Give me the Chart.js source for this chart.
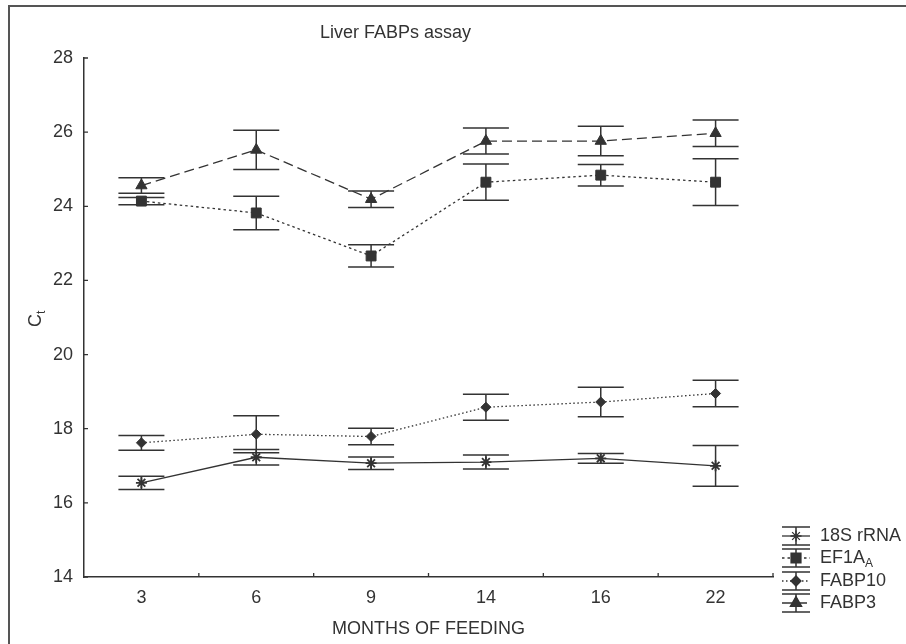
<!DOCTYPE html>
<html>
<head>
<meta charset="utf-8">
<title>Liver FABPs assay</title>
<script src="https://cdn.jsdelivr.net/npm/chart.js@4.4.0/dist/chart.umd.min.js"></script>
<style>
  html, body { margin:0; padding:0; background:#fff; }
  #wrap { width:906px; height:644px; }
</style>
</head>
<body>
<div id="wrap"><canvas id="chart" width="906" height="644"></canvas></div>
<script>
// data (Ct, mean and half error bar)
const months = ["3","6","9","14","16","22"];
const yTicks = [14,16,18,20,22,24,26,28];

const rrna18s    = [16.54, 17.23, 17.07, 17.10, 17.20, 17.00];
const rrna18sErr = [0.18, 0.21, 0.17, 0.19, 0.13, 0.55];
const ef1a       = [24.14, 23.82, 22.66, 24.65, 24.84, 24.65];
const ef1aErr    = [0.10, 0.45, 0.30, 0.49, 0.29, 0.63];
const fabp10     = [17.62, 17.85, 17.79, 18.58, 18.72, 18.95];
const fabp10Err  = [0.20, 0.50, 0.22, 0.35, 0.40, 0.36];
const fabp3      = [24.56, 25.52, 24.19, 25.76, 25.76, 25.97];
const fabp3Err   = [0.21, 0.53, 0.22, 0.35, 0.40, 0.36];

const ink = "#333333";
const FONT = "'Liberation Sans', Arial, sans-serif";
const FS = 18;

function series(label, data, err, style, radius, dash){
    return {
        label, data, err,
        borderColor: ink, backgroundColor: ink,
        borderWidth: 1.3, borderDash: dash,
        pointStyle: style, pointRadius: radius,
        pointBorderColor: ink, pointBackgroundColor: ink,
        pointBorderWidth: style === "star" ? 1.8 : 1,
        tension: 0, fill: false
    };
}

const datasets = [
    series("18S rRNA", rrna18s, rrna18sErr, "star", 5.5, []),
    series("EF1A", ef1a, ef1aErr, "rect", 7, [2.5, 3]),
    series("FABP10", fabp10, fabp10Err, "rectRot", 5, [1.5, 2.5]),
    series("FABP3", fabp3, fabp3Err, "triangle", 6.5, [10, 5])
];

// error bars, drawn under the markers
const errorBars = {
    id: "errorBars",
    beforeDatasetsDraw(chart){
        const ctx = chart.ctx, y = chart.scales.y;
        ctx.save();
        ctx.strokeStyle = ink;
        ctx.lineWidth = 1.5;
        chart.data.datasets.forEach((ds, di)=>{
            chart.getDatasetMeta(di).data.forEach((pt, i)=>{
                const hi = y.getPixelForValue(ds.data[i] + ds.err[i]);
                const lo = y.getPixelForValue(ds.data[i] - ds.err[i]);
                ctx.beginPath();
                ctx.moveTo(pt.x, hi); ctx.lineTo(pt.x, lo);
                ctx.moveTo(pt.x - 23, hi); ctx.lineTo(pt.x + 23, hi);
                ctx.moveTo(pt.x - 23, lo); ctx.lineTo(pt.x + 23, lo);
                ctx.stroke();
            });
        });
        ctx.restore();
    }
};

// frame, inward ticks, title, y label with subscript, legend
const extras = {
    id: "extras",
    afterDraw(chart){
        const ctx = chart.ctx, x = chart.scales.x, y = chart.scales.y;
        const area = chart.chartArea;
        ctx.save();

        ctx.strokeStyle = "#555";
        ctx.lineWidth = 2;
        ctx.strokeRect(9, 6, 920, 660);

        ctx.strokeStyle = ink;
        ctx.lineWidth = 1.3;
        ctx.beginPath();
        yTicks.forEach(v=>{
            const py = y.getPixelForValue(v);
            ctx.moveTo(area.left, py); ctx.lineTo(area.left + 4, py);
        });
        for(let i = 0; i < months.length; i++){
            const px = (x.getPixelForValue(i) + x.getPixelForValue(i + 1)) / 2;
            ctx.moveTo(px, area.bottom); ctx.lineTo(px, area.bottom - 4);
        }
        ctx.stroke();

        ctx.fillStyle = ink;
        ctx.font = FS + "px " + FONT;
        ctx.textBaseline = "middle";
        ctx.textAlign = "left";
        ctx.fillText("Liver FABPs assay", 320, 33);

        // C_t
        ctx.save();
        ctx.translate(35, 318);
        ctx.rotate(-Math.PI / 2);
        ctx.textBaseline = "alphabetic";
        ctx.font = FS + "px " + FONT;
        ctx.fillText("C", -9, 6);
        ctx.font = "12px " + FONT;
        ctx.fillText("t", 4, 10);
        ctx.restore();

        // legend
        const rows = [536, 558, 581, 603];
        const x0 = 782, x1 = 810, xc = 796;
        chart.data.datasets.forEach((ds, di)=>{
            const ry = rows[di];
            ctx.strokeStyle = ink;
            ctx.lineWidth = 1.5;
            ctx.setLineDash([]);
            ctx.beginPath();
            ctx.moveTo(x0, ry - 9); ctx.lineTo(x1, ry - 9);
            ctx.moveTo(x0, ry + 9); ctx.lineTo(x1, ry + 9);
            ctx.moveTo(xc, ry - 9); ctx.lineTo(xc, ry + 9);
            ctx.stroke();
            ctx.lineWidth = ds.borderWidth;
            ctx.setLineDash(ds.borderDash);
            ctx.beginPath();
            ctx.moveTo(x0, ry); ctx.lineTo(x1, ry);
            ctx.stroke();
            ctx.setLineDash([]);
            Chart.helpers.drawPoint(ctx, {
                pointStyle: ds.pointStyle, radius: ds.pointRadius,
                borderWidth: ds.pointBorderWidth, rotation: 0
            }, xc, ry);
            ctx.fill();

            ctx.fillStyle = ink;
            ctx.textBaseline = "middle";
            ctx.font = FS + "px " + FONT;
            ctx.fillText(ds.label, 820, ry);
            if(ds.label === "EF1A"){
                const w = ctx.measureText(ds.label).width;
                ctx.font = "12px " + FONT;
                ctx.fillText("A", 820 + w, ry + 6);
            }
        });
        ctx.restore();
    }
};

new Chart(document.getElementById("chart").getContext("2d"), {
    type: "line",
    data: { labels: months, datasets },
    options: {
        responsive: false,
        animation: false,
        layout: { padding: { top: 58, right: 133, bottom: 4, left: 0 } },
        plugins: { legend: { display: false }, tooltip: { enabled: false }, title: { display: false } },
        scales: {
            x: {
                type: "category",
                offset: true,
                grid: { display: false, drawTicks: false },
                border: { display: true, color: ink, width: 1.5 },
                ticks: { color: ink, font: { family: FONT, size: FS }, padding: 10 },
                title: { display: true, text: "MONTHS OF FEEDING", color: ink, font: { family: FONT, size: FS }, padding: 0 },
                afterFit(s){ s.height = 63; }
            },
            y: {
                min: 14, max: 28,
                grid: { display: false, drawTicks: false },
                border: { display: true, color: ink, width: 1.5 },
                ticks: { color: ink, font: { family: FONT, size: FS }, padding: 11 },
                afterBuildTicks(s){ s.ticks = yTicks.map(v=>({ value: v })); },
                afterFit(s){ s.width = 84; }
            }
        }
    },
    plugins: [errorBars, extras]
});
</script>
</body>
</html>
